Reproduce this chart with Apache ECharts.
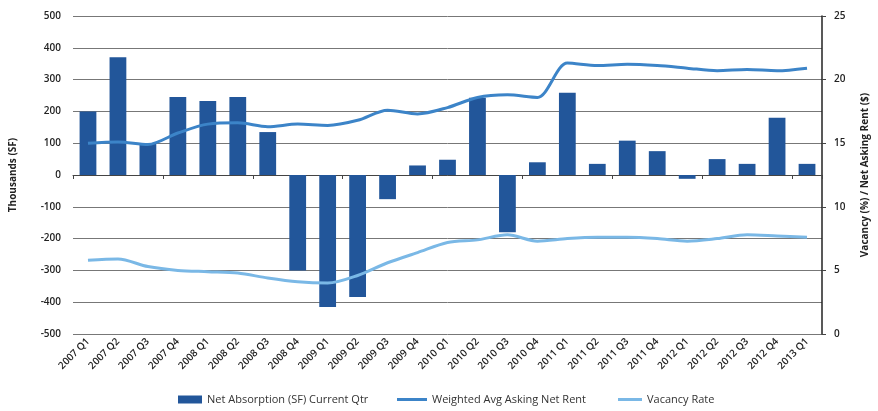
<!DOCTYPE html>
<html><head><meta charset="utf-8">
<script src="https://cdn.jsdelivr.net/npm/echarts@6/dist/echarts.min.js"></script>
<style>html,body{margin:0;padding:0;background:#fff}#c{width:878px;height:411px}</style>
</head><body><div id="c"></div>
<script>
const categories = ['2007 Q1','2007 Q2','2007 Q3','2007 Q4','2008 Q1','2008 Q2','2008 Q3','2008 Q4',
  '2009 Q1','2009 Q2','2009 Q3','2009 Q4','2010 Q1','2010 Q2','2010 Q3','2010 Q4',
  '2011 Q1','2011 Q2','2011 Q3','2011 Q4','2012 Q1','2012 Q2','2012 Q3','2012 Q4','2013 Q1'];
const netAbsorption = [200,370,100,245,233,245,135,-300,-415,-384,-76,30,48,243,-180,40,259,35,108,75,-12,50,35,180,35];
const askingRent = [15.0,15.1,14.9,15.8,16.5,16.6,16.3,16.5,16.4,16.8,17.6,17.3,17.8,18.6,18.8,18.6,21.3,21.1,21.2,21.1,20.9,20.7,20.8,20.7,20.9];
const vacancyRate = [5.8,5.9,5.3,5.0,4.9,4.8,4.4,4.1,4.0,4.6,5.6,6.4,7.2,7.4,7.8,7.3,7.5,7.6,7.6,7.5,7.3,7.5,7.8,7.7,7.6];
const leftTicks = {min:-500,max:500,interval:100};
const rightTicks = {min:0,max:25,interval:5};

const font = 'Open Sans';
const txt = '#222';
const legendText = {fontFamily:font,fontSize:11,color:'#333'};
const chart = echarts.init(document.getElementById('c'));
chart.setOption({
  animation:false,
  textStyle:{fontFamily:font},
  grid:{left:70,right:53,top:16,bottom:77},
  legend:[
    {left:173,top:389,itemWidth:24,itemHeight:8,itemGap:5,textStyle:legendText,
     data:[{name:'Net Absorption (SF) Current Qtr',icon:'rect'}]},
    {left:392,top:389,itemWidth:30,itemHeight:3,textStyle:legendText,
     data:[{name:'Weighted Avg Asking Net Rent',icon:'rect'}]},
    {left:613,top:389,itemWidth:24,itemHeight:3,textStyle:legendText,
     data:[{name:'Vacancy Rate',icon:'rect'}]}
  ],
  xAxis:[
    {type:'category',data:categories,position:'bottom',
     axisLine:{onZero:false,show:false},axisTick:{show:false},
     axisLabel:{rotate:45,fontSize:10,fontWeight:600,color:txt,margin:6,interval:0}},
    {type:'category',data:categories,position:'bottom',
     axisLine:{onZero:true,onZeroAxisIndex:0,lineStyle:{color:'#444',width:1}},
     axisTick:{show:true,length:4,lineStyle:{color:'#444'}},
     axisLabel:{show:false}}
  ],
  yAxis:[
    {type:'value',min:leftTicks.min,max:leftTicks.max,interval:leftTicks.interval,
     name:'Thousands (SF)',nameLocation:'middle',nameGap:55,nameRotate:90,
     nameTextStyle:{fontSize:10,fontWeight:700,color:txt,fontFamily:font},
     axisLine:{show:false},axisTick:{show:false},
     axisLabel:{fontSize:10,fontWeight:600,color:txt,margin:12},
     splitLine:{lineStyle:{color:'#777',width:1}}},
    {type:'value',min:rightTicks.min,max:rightTicks.max,interval:rightTicks.interval,position:'right',
     name:'Vacancy (%) / Net Asking Rent ($)',nameLocation:'middle',nameGap:38,nameRotate:90,
     nameTextStyle:{fontSize:10,fontWeight:700,color:txt,fontFamily:font},
     axisLine:{show:true,lineStyle:{color:'#222',width:1.5}},axisTick:{show:true,length:4,lineStyle:{color:'#444'}},
     axisLabel:{fontSize:10,fontWeight:600,color:txt,margin:12},
     splitLine:{show:false}}
  ],
  series:[
    {name:'Net Absorption (SF) Current Qtr',type:'bar',data:netAbsorption,xAxisIndex:0,yAxisIndex:0,
     barWidth:'56%',itemStyle:{color:'#22569a'}},
    {name:'Weighted Avg Asking Net Rent',type:'line',data:askingRent,xAxisIndex:0,yAxisIndex:1,
     smooth:0.3,symbol:'none',lineStyle:{color:'#3c84c8',width:3},itemStyle:{color:'#3c84c8'}},
    {name:'Vacancy Rate',type:'line',data:vacancyRate,xAxisIndex:0,yAxisIndex:1,
     smooth:0.3,symbol:'none',lineStyle:{color:'#7ab8e6',width:3},itemStyle:{color:'#7ab8e6'}}
  ]
});
</script></body></html>
